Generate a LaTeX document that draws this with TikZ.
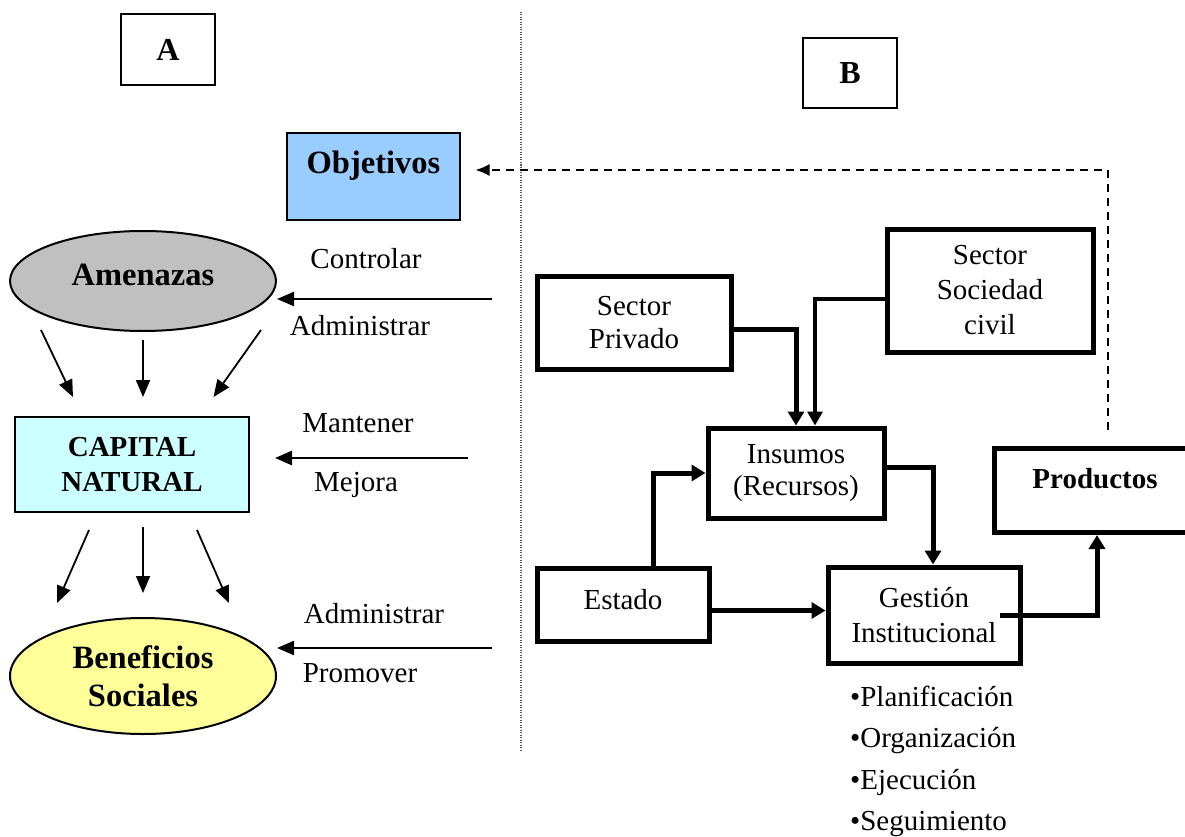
\documentclass[tikz,border=0pt]{standalone}
\usepackage{fontspec}
\setmainfont{Liberation Serif}
\usetikzlibrary{arrows.meta,shapes.geometric,calc}
\definecolor{objblue}{HTML}{99CCFF}
\definecolor{amegray}{HTML}{C0C0C0}
\definecolor{capcyan}{HTML}{CCFFFF}
\definecolor{benyellow}{HTML}{FFFF99}
\begin{document}
\begin{tikzpicture}[x=1pt,y=-1pt,
  thinbox/.style={draw, line width=2pt, rectangle, inner sep=0pt},
  fatbox/.style={draw, line width=5pt, rectangle, inner sep=0pt, align=center, font=\fontsize{29}{33}\selectfont},
  oval/.style={draw, line width=2pt, ellipse, inner sep=0pt},
  thinarrow/.style={line width=2.2pt, -{Triangle[length=17pt,width=14pt]}},
  fatarrow/.style={line width=5pt, -{Triangle[length=14pt,width=16pt]}},
  midarrow/.style={line width=3.3pt, -{Triangle[length=14pt,width=15pt]}},
  lbl/.style={anchor=base, inner sep=0pt, font=\fontsize{29}{33}\selectfont},
  bul/.style={anchor=base west, inner sep=0pt, font=\fontsize{29}{33}\selectfont},
  dashline/.style={line width=2pt, dash pattern=on 8pt off 6pt, -{Latex[length=14pt,width=12pt]}},
  dotline/.style={line width=1.2pt, gray!70!black, dash pattern=on 1pt off 1.5pt},
]
\clip (0,0) rectangle (1185,837);
\fill[white] (0,0) rectangle (1185,837);

% separator
\coordinate (dv1) at (521,12);
\coordinate (dv2) at (521,750);
\draw[dotline] (dv1) -- (dv2);

% left side
\node[thinbox, minimum width=94pt, minimum height=71pt, font=\bfseries\fontsize{32}{36}\selectfont] (A) at (168,49.5) {A};
\node[thinbox, fill=objblue, anchor=north, minimum width=173pt, text height=41pt, text depth=46pt, font=\bfseries\fontsize{32.5}{36}\selectfont] (obj) at (373.5,132) {Objetivos};
\node[oval, fill=amegray, minimum width=266pt, minimum height=100pt, text height=22pt, text depth=14pt, font=\bfseries\fontsize{32.5}{36}\selectfont] (ame) at (143,281) {Amenazas};
\node[thinbox, fill=capcyan, minimum width=234.5pt, minimum height=95pt, align=center, font=\bfseries\fontsize{29}{35}\selectfont] (cap) at (132,464.5) {CAPITAL\\NATURAL};
\node[oval, fill=benyellow, minimum width=266pt, minimum height=116pt, align=center, font=\bfseries\fontsize{32.5}{38}\selectfont] (ben) at (143,676) {Beneficios\\Sociales};

\node[lbl] (l1) at (366,268) {Controlar};
\node[lbl] (l2) at (360,335) {Administrar};
\node[lbl] (l3) at (358,432) {Mantener};
\node[lbl] (l4) at (356,491) {Mejora};
\node[lbl] (l5) at (374,623) {Administrar};
\node[lbl] (l6) at (360,682) {Promover};

\coordinate (c1s) at (492,299);
\draw[thinarrow] (c1s) -- (c1s -| ame.east);
\coordinate (c2s) at (468,458);
\coordinate (c2e) at (275,458);
\draw[thinarrow, line width=2.8pt] (c2s) -- (c2e);
\coordinate (c3s) at (492,648);
\draw[thinarrow] (c3s) -- (c3s -| ben.east);

\coordinate (a1s) at (41,330);  \coordinate (a1e) at (73,397);
\coordinate (a2s) at (143,340); \coordinate (a2e) at (143,397);
\coordinate (a3s) at (261,330); \coordinate (a3e) at (213.5,397);
\draw[thinarrow, line width=1.8pt] (a1s) -- (a1e);
\draw[thinarrow, line width=1.8pt] (a2s) -- (a2e);
\draw[thinarrow, line width=1.8pt] (a3s) -- (a3e);
\coordinate (b1s) at (89,530);  \coordinate (b1e) at (57,603);
\coordinate (b2s) at (143,527); \coordinate (b2e) at (143,593);
\coordinate (b3s) at (197,530); \coordinate (b3e) at (229,603);
\draw[thinarrow, line width=1.8pt] (b1s) -- (b1e);
\draw[thinarrow, line width=1.8pt] (b2s) -- (b2e);
\draw[thinarrow, line width=1.8pt] (b3s) -- (b3e);

% right side
\node[thinbox, minimum width=94pt, minimum height=70pt, font=\bfseries\fontsize{32}{36}\selectfont] (B) at (850,73) {B};
\node[fatbox, minimum width=194pt, minimum height=93pt] (priv) at (634,322.5) {Sector\\Privado};
\node[fatbox, minimum width=206pt, minimum height=123pt, font=\fontsize{29}{35}\selectfont] (soc) at (990,290.5) {Sector\\Sociedad\\civil};
\node[fatbox, minimum width=176pt, minimum height=90pt, font=\fontsize{29}{32}\selectfont] (ins) at (796,473) {Insumos\\(Recursos)};
\node[fatbox, minimum width=172pt, anchor=north, text height=41pt, text depth=32pt] (est) at (623,566) {Estado};
\node[fatbox, minimum width=192pt, minimum height=96pt, font=\fontsize{29}{35}\selectfont] (ges) at (924,615) {Gestión\\Institucional};
\node[fatbox, minimum width=202pt, anchor=north, text height=40pt, text depth=44pt, font=\bfseries\fontsize{29}{33}\selectfont] (prod) at (1095,446) {Productos};

\node[bul] (p1) at (850,706) {•Planificación};
\node[bul] (p2) at (850,747.5) {•Organización};
\node[bul] (p3) at (850,789) {•Ejecución};
\node[bul] (p4) at (850,830) {•Seguimiento};

\draw[fatarrow] ([yshift=-6.5pt]priv.east) -| (ins.north);
\draw[midarrow] ([yshift=-8.5pt]soc.west) -| ([xshift=19pt]ins.north);
\draw[fatarrow] ([yshift=6pt]ins.east) -| ([xshift=9pt]ges.north);
\draw[fatarrow] ([xshift=30pt]est.north) |- (ins.west);
\draw[fatarrow] ([yshift=-5.5pt]est.east) coordinate (ee) -- (ee -| ges.west);
\draw[fatarrow] ([xshift=-23pt]ges.east) -| ([xshift=2pt]prod.south);
\draw[dashline] ([xshift=13pt,yshift=16pt]prod.north) |- ([xshift=14.5pt,yshift=6.5pt]obj.east);
\end{tikzpicture}
\end{document}
